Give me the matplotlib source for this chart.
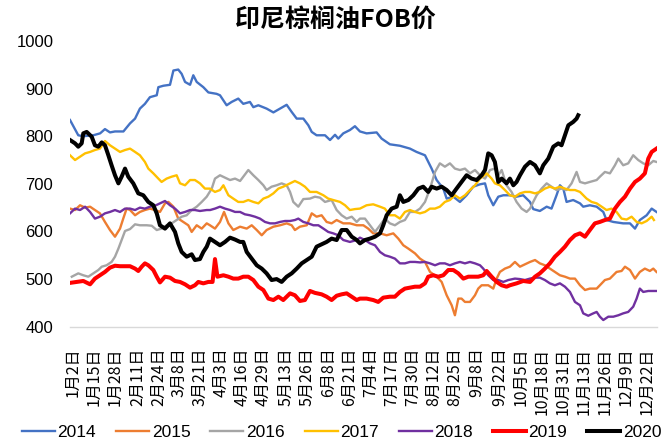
import datetime as dt
import matplotlib
matplotlib.use("Agg")
import matplotlib.pyplot as plt

# ---------------- data (day of year, value) ----------------
title = "印尼棕榈油FOB价"
tick_labels = ["1月2日", "1月15日", "1月28日", "2月11日", "2月24日", "3月8日", "3月21日",
               "4月3日", "4月16日", "4月29日", "5月13日", "5月26日", "6月8日", "6月21日",
               "7月4日", "7月17日", "7月30日", "8月12日", "8月25日", "9月8日", "9月22日",
               "10月5日", "10月18日", "10月31日", "11月13日", "11月26日", "12月9日", "12月22日"]
yticks = [400, 500, 600, 700, 800, 900, 1000]

s2014 = [(0.4,834),(5.5,802),(8.6,800),(14.8,802),(19,806),(22,815),(25.1,808),(28.2,810),(33.4,810),(37.5,827),
         (40.6,837),(43.6,858),(46.7,868),(49.8,882),(54,886),(55,903),(58.1,906),(62.2,908),(64.3,938),(67.3,940),
         (69.4,931),(71.5,914),(74.6,908),(76.6,928),(78.7,914),(82.8,903),(85.9,892),(91,889),(93.1,886),(97.2,865),
         (100.3,872),(104.4,879),(107.5,868),(111.6,872),(113.7,861),(116.8,865),(121.9,858),(126.1,850),(130.2,858),(134.3,866),
         (137.4,851),(140.5,837),(144.6,837),(147.7,823),(149.8,809),(152.8,802),(158,802),(161.1,792),(164.2,803),(166.2,795),
         (169.3,806),(173.4,813),(176.5,821),(179.6,810),(183.7,806),(189.9,808),(193,795),(198.1,783),(204.3,780),(210.5,774),
         (214.6,767),(219.8,760),(223.9,732),(227,708),(231.1,690),(233.2,669),(237.3,673),(241.4,662),(245.5,676),(249.6,694),
         (253.8,699),(256.9,701),(258.9,676),(262,655),(265.1,673),(268.2,676),(272.3,676),(276.4,673),(280.5,676),(284.7,662),
         (286.7,647),(290.8,643),(295,652),(298,648),(301.1,676),(303.2,697),(305.3,690),(307.3,662),(311.4,666),(315.6,659),
         (317.6,652),(321.7,655),(325.9,652),(330,641),(332,624),(336.2,620),(342.3,617),(346.5,617),(349.6,606),(352.6,624),
         (356.8,634),(359.9,648),(362.9,641)]

s2015 = [(0.4,648),(3.5,645),(6.6,655),(9.7,650),(12.8,652),(15.8,645),(18.9,638),(22,620),(25.1,603),(28.2,589),
         (31.3,606),(33.3,627),(35.4,648),(37.5,645),(40.6,634),(43.6,641),(46.7,645),(49.8,648),(52.9,645),(56,641),
         (59.1,659),(61.2,662),(64.3,652),(67.3,627),(70.4,620),(73.5,613),(75.6,599),(78.7,613),(81.8,606),(84.9,617),
         (86.9,613),(90,606),(93.1,620),(95.6,641),(98.3,617),(101.3,603),(105.5,610),(109.6,606),(112.7,613),(115.8,603),
         (118.9,592),(121.9,603),(126.1,610),(130.2,613),(134.3,617),(137.4,613),(139.4,603),(142.5,610),(146.7,613),(149.8,638),
         (152.8,631),(155.9,634),(159,620),(162.1,617),(165.2,624),(169.3,617),(173.4,617),(177.6,613),(181.7,613),(184.7,606),
         (187.8,596),(192,596),(196.1,592),(200.2,596),(203.3,585),(206.4,571),(209.5,564),(213.6,554),(216.7,543),(219.8,536),
         (222.9,515),(227,505),(230.1,494),(233.2,466),(236.3,445),(238.3,424),(240.4,459),(242.4,459),(244.5,452),(247.6,452),
         (250.7,466),(252.7,480),(254.8,487),(258.9,487),(262,480),(264.1,501),(266.1,515),(269.2,522),(272.3,526),(275.4,536),
         (278.5,526),(281.6,531),(284.7,536),(287.8,540),(290.8,533),(293.9,529),(297,522),(300.1,515),(303.2,508),(306.3,505),
         (309.4,501),(312.5,501),(315.6,487),(318.7,477),(321.7,480),(325.9,480),(327.9,487),(331,498),(334.1,501),(338.2,515),
         (341.3,517),(343.4,526),(346.5,519),(349.6,501),(352.6,515),(355.7,522),(358.8,517),(360.9,522),(362.9,515)]

s2016 = [(1.5,505),(5.5,512),(8.6,508),(11.7,505),(14.8,512),(17.9,519),(20,526),(23,529),(26.1,536),(28.2,547),
         (30.3,564),(32.3,582),(34.4,601),(37.5,605),(40.6,615),(43.6,613),(47.8,613),(50.9,612),(54,603),(57,606),
         (60.1,613),(63.2,617),(66.3,624),(69.4,631),(72.5,634),(75.6,645),(78.7,652),(81.8,662),(84.9,673),(88,690),
         (90,711),(93.1,718),(96.2,713),(99.3,708),(102.4,711),(105.5,706),(107.5,715),(110.6,729),(113.7,718),(116.8,708),
         (119.9,697),(121.9,687),(125,694),(128.1,697),(131.2,701),(134.3,697),(136.4,683),(138.4,662),(141.5,652),(144.6,668),
         (148.7,669),(151.8,673),(154.9,671),(158,662),(162.1,666),(165.2,645),(168.3,634),(171.4,627),(174.5,631),(177.6,620),
         (179.6,627),(182.7,627),(185.8,613),(188.9,599),(192,613),(195,627),(198.1,617),(201.2,613),(204.3,620),(207.4,624),
         (210.5,641),(213.6,641),(216.7,648),(219.8,662),(222.9,690),(226,725),(229,743),(232.1,736),(235.2,743),(238.3,732),
         (241.4,729),(244.5,732),(247.6,722),(250.7,729),(253.8,718),(256.9,711),(260,729),(263,732),(265.1,718),(267.2,729),
         (270.2,697),(273.3,683),(276.4,662),(279.5,648),(282.6,641),(284.7,648),(286.7,662),(288.8,676),(291.9,690),(295,701),
         (298,694),(301.1,687),(304.2,690),(307.3,687),(310.4,701),(313.5,725),(315.6,704),(318.7,701),(321.7,704),(325.9,708),
         (327.9,715),(331,725),(334.1,722),(337.2,739),(339.3,753),(342.3,739),(345.4,743),(348.5,760),(351.6,750),(354.7,743),
         (357.8,739),(360.9,748),(362.9,746)]

s2017 = [(0.4,760),(3.5,750),(6.6,757),(9.7,764),(12.8,767),(15.8,771),(18.9,774),(22,790),(25.1,781),(28.2,774),
         (31.3,767),(34.4,771),(37.5,774),(40.6,767),(43.6,760),(46.7,746),(48.8,732),(51.9,722),(55,711),(57,704),
         (60.1,711),(63.2,715),(66.3,718),(68.4,701),(71.5,697),(74.6,708),(77.6,708),(80.7,701),(83.8,690),(86.9,690),
         (90,683),(93.1,687),(95.2,697),(98.3,676),(101.3,669),(104.4,662),(107.5,662),(110.6,666),(113.7,662),(116.8,659),
         (119.9,669),(123,673),(126.1,680),(129.2,690),(132.2,694),(136.4,701),(139.4,706),(142.5,701),(145.6,694),(148.7,683),
         (152.8,683),(157,676),(160,669),(163.1,666),(167.3,662),(170.4,655),(173.4,645),(176.5,647),(179.6,648),(183.7,655),
         (187.8,657),(192,652),(195,648),(198.1,634),(201.2,634),(204.3,627),(207.4,641),(210.5,645),(213.6,641),(216.7,638),
         (219.8,641),(222.9,648),(226,648),(229,652),(232.1,662),(235.2,666),(238.3,676),(241.4,669),(244.5,676),(247.6,687),
         (250.7,697),(253.8,711),(257.9,722),(261,711),(263,701),(266.1,697),(269.2,687),(272.3,676),(275.4,673),(278.5,680),
         (281.6,683),(284.7,683),(287.8,680),(290.8,683),(293.9,690),(297,694),(300.1,690),(303.2,694),(306.3,690),(309.4,687),
         (312.5,687),(315.6,683),(319.7,669),(322.8,662),(325.9,659),(329,652),(332,645),(335.1,648),(338.2,641),(341.3,627),
         (344.4,625),(347.5,631),(350.6,620),(353.7,617),(356.8,622),(359.9,631),(361.3,624)]

s2018 = [(0.4,638),(3.5,648),(6.6,645),(9.7,652),(12.8,641),(15.8,627),(18.9,631),(22,638),(25.1,641),(28.2,645),
         (31.3,641),(34.4,648),(37.5,648),(40.6,645),(43.6,650),(46.7,648),(49.8,652),(52.9,654),(56,659),(59.1,664),
         (62.2,655),(65.3,648),(68.4,638),(71.5,641),(74.6,645),(77.6,645),(80.7,643),(84.9,645),(87,645),(90,648),
         (93.1,652),(96.2,648),(99.3,645),(102.4,641),(105.5,641),(108.5,636),(111.6,634),(114.7,631),(117.8,627),(120.9,620),
         (124,617),(127.1,617),(130.2,620),(133.3,622),(136.4,622),(139.4,624),(141.5,627),(144.6,620),(147.7,617),(150.8,613),
         (153.9,613),(157,606),(160,599),(163.1,596),(166.2,592),(169.3,582),(173.4,578),(177.6,582),(179.6,587),(182.7,582),
         (185.8,575),(188.9,571),(192,557),(195,550),(198.1,547),(201.2,543),(204.3,533),(207.4,533),(210.5,536),(213.6,536),
         (216.7,535),(219.8,536),(222.9,533),(226,529),(229,533),(232.1,533),(235.2,529),(238.3,533),(241.4,536),(244.5,533),
         (247.6,536),(250.7,533),(253.8,529),(255.8,522),(258.9,508),(262,498),(265.1,498),(268.2,494),(271.3,498),(275.4,501),
         (278.5,500),(281.6,498),(284.7,501),(287.8,503),(290.8,503),(293.9,498),(297,491),(300.1,487),(303.2,491),(306.3,484),
         (309.4,473),(312.5,452),(315.6,445),(317.6,428),(320.7,423),(323.8,428),(325.9,431),(327.9,421),(330,414),(333.1,421),
         (336.2,421),(339.3,424),(342.3,428),(345.4,431),(348.5,442),(350.6,459),(352.6,480),(354.7,473),(357.8,475),(360.9,475),
         (362.9,475)]

s2019 = [(0.4,492),(4.5,494),(8.6,496),(12.8,489),(15.8,501),(18.9,508),(22,515),(25.1,524),(28.2,528),(31.3,527),
         (34.4,527),(37.5,527),(40.6,522),(42.6,517),(44.7,526),(46.7,533),(48.8,529),(51.9,519),(54,505),(56,493),
         (59.1,505),(62.2,503),(65.3,496),(68.4,494),(71.5,489),(74.6,482),(77.6,487),(79.7,494),(82.8,491),(85.9,494),
         (88.5,494),(90,542),(91.5,505),(95.2,508),(98.3,505),(101.3,501),(104.4,501),(107.5,505),(110.6,505),(113.7,498),
         (116.8,484),(119.9,477),(123,459),(126.1,456),(129.2,463),(132.2,456),(136.4,470),(139.4,466),(142.5,454),(145.6,456),
         (148.7,475),(151.8,471),(155.9,468),(159,463),(162.1,456),(165.2,465),(168.3,468),(171.4,470),(174.5,463),(177.6,456),
         (179.6,459),(183.7,459),(187.8,456),(190.9,452),(194,461),(198.1,463),(201.2,463),(204.3,473),(207.4,480),(210.5,482),
         (213.6,484),(216.7,484),(219.8,491),(221.8,505),(224.9,508),(228,505),(231.1,508),(234.2,519),(237.3,519),(240.4,512),
         (243.5,501),(246.6,505),(249.6,505),(252.7,505),(255.8,508),(257.9,517),(261,505),(264.1,494),(267.2,487),(270.2,484),
         (272.3,487),(276.4,491),(280.5,496),(284.7,494),(287.8,505),(290.8,512),(293.9,522),(297,533),(300.1,547),(303.2,557),
         (306.3,568),(309.4,582),(312.5,592),(315.6,596),(318.7,589),(321.7,603),(324.8,617),(327.9,620),(331,624),(334.1,627),
         (337.2,648),(340.3,662),(343.4,673),(346.5,690),(349.6,704),(352.6,711),(355.7,722),(357.8,753),(359.9,767),(362.9,774)]

s2020 = [(0.4,792),(3.5,785),(5.5,778),(7.6,785),(8.6,806),(10.7,809),(13.8,799),(15.8,781),(17.9,778),(20,787),
         (22,781),(24.1,760),(26.1,739),(28.2,718),(30.3,701),(32.3,715),(34.4,732),(36.4,715),(39.5,701),(42.6,680),
         (45.7,676),(48.8,662),(51.9,655),(54,638),(56,613),(59.1,606),(62.2,617),(65.3,599),(67.3,575),(69.4,557),
         (72.5,547),(75.6,552),(77.6,540),(80.7,542),(82.8,557),(84.9,568),(86.9,585),(90,578),(93.1,571),(96.2,578),
         (99.3,587),(102.4,583),(105.5,578),(107.5,578),(109.6,557),(112.7,543),(115.8,529),(118.9,522),(121.9,512),(125,498),
         (128.1,500),(131.2,494),(134.3,505),(137.4,512),(140.5,522),(143.6,533),(146.7,540),(149.8,547),(152.8,568),(155.9,573),
         (159,578),(162.1,585),(165.2,582),(168.3,603),(171.4,603),(174.5,589),(177.6,582),(179.6,575),(182.7,582),(185.8,585),
         (188.9,589),(192,596),(194,613),(196.1,634),(199.2,648),(202.3,652),(204.3,676),(206.4,662),(209.5,666),(212.6,676),
         (215.7,690),(218.7,694),(221.8,683),(223.9,694),(227,690),(230.1,694),(233.2,687),(236.3,676),(239.3,690),(242.4,704),
         (245.5,718),(248.6,711),(251.7,708),(254.8,718),(256.9,729),(258.9,764),(261,760),(263,746),(265.1,704),(267.2,711),
         (270.2,701),(272.3,711),(274.4,697),(276.4,704),(278.5,718),(281.6,736),(284.7,746),(287.8,739),(290.8,722),(292.9,739),
         (296,753),(299.1,778),(302.2,785),(304.2,781),(306.3,802),(308.4,823),(311.4,830),(313.5,837),(314.5,844)]

series = [("2014", s2014, "#4472C4", 1.7),
          ("2015", s2015, "#ED7D31", 1.7),
          ("2016", s2016, "#A5A5A5", 1.7),
          ("2017", s2017, "#FFC000", 1.7),
          ("2018", s2018, "#7030A0", 1.7),
          ("2019", s2019, "#FF0000", 2.9),
          ("2020", s2020, "#000000", 2.9)]

# ---------------- figure ----------------
fig = plt.figure(figsize=(6.7, 4.44), dpi=100)
ax = fig.add_axes([0.1045, 0.2642, 0.8761, 0.6435])

for name, pts, color, lw in series:
    xs = [p[0] for p in pts]
    ys = [p[1] for p in pts]
    ax.plot(xs, ys, color=color, lw=lw, label=name, solid_joinstyle="round")

ax.set_xlim(0.4, 363.2)
ax.set_ylim(400, 1000)
ax.set_yticks(yticks)
ax.set_yticklabels([str(v) for v in yticks], fontsize=12, family="Liberation Sans")

tick_pos = []
for lab in tick_labels:
    m, d = lab.replace("日", "").split("月")
    tick_pos.append(dt.date(2020, int(m), int(d)).timetuple().tm_yday)
ax.set_xticks(tick_pos)
ax.set_xticklabels(tick_labels, rotation=90, fontsize=11.5,
                   family=["Noto Sans CJK SC", "DejaVu Sans"])

ax.tick_params(axis="x", length=0, pad=15)
ax.tick_params(axis="y", length=0, pad=12)
for sp in ["left", "right", "top"]:
    ax.spines[sp].set_visible(False)
ax.spines["bottom"].set_color("#D9D9D9")
ax.spines["bottom"].set_linewidth(1.0)

fig.text(0.5, 0.955, title, ha="center", va="center", fontsize=18, fontweight="bold",
         family=["Noto Sans CJK SC", "DejaVu Sans"])

leg = fig.legend(loc="center", bbox_to_anchor=(0.51, 0.027), ncol=7, frameon=False,
                 prop={"family": "Liberation Sans", "size": 12.5},
                 handlelength=1.9, handletextpad=0.15, columnspacing=1.15, borderaxespad=0,
                 borderpad=0.1)

fig.savefig("out.png", dpi=100)
